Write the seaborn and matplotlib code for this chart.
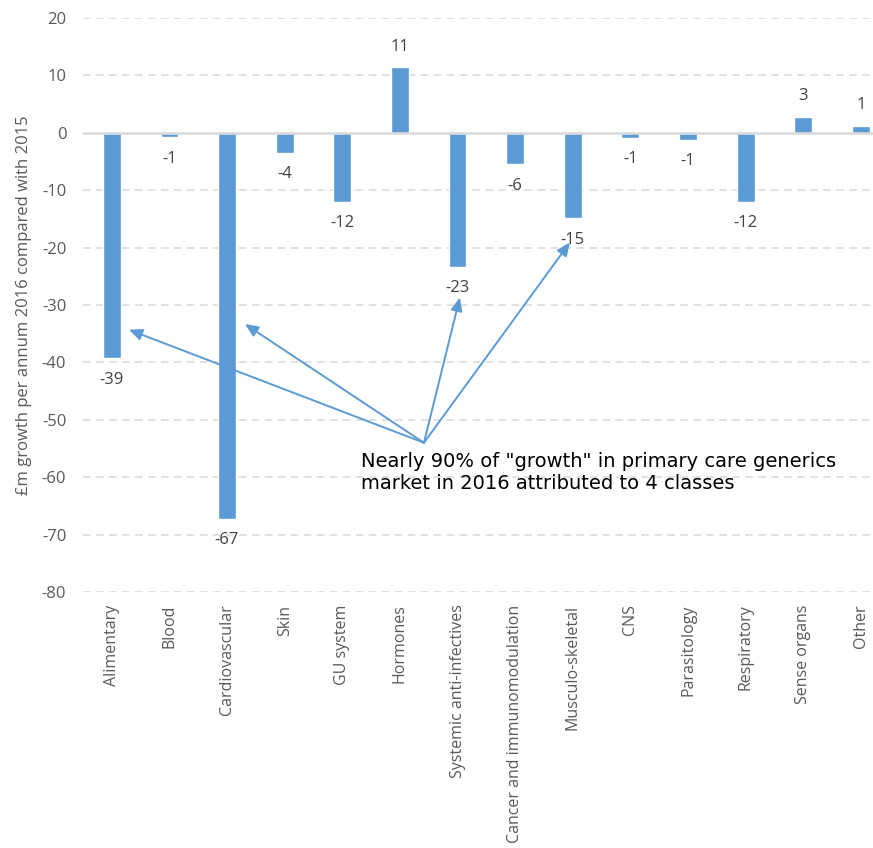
import matplotlib
matplotlib.use("Agg")
import matplotlib.pyplot as plt
import seaborn as sns
import pandas as pd

# Therapeutic classes and £m change in primary care generics spend, 2016 vs 2015
categories = [
    "Alimentary", "Blood", "Cardiovascular", "Skin", "GU system", "Hormones",
    "Systemic anti-infectives", "Cancer and immunomodulation", "Musculo-skeletal",
    "CNS", "Parasitology", "Respiratory", "Sense organs", "Other",
]
growth = [-39.3, -0.75, -67.2, -3.5, -12.0, 11.4, -23.3, -5.5, -14.9, -0.9, -1.2, -12.0, 2.7, 1.2]

# Classes highlighted by the callout
highlighted = ["Alimentary", "Cardiovascular", "Systemic anti-infectives", "Musculo-skeletal"]

y_ticks = list(range(-80, 21, 10))

BAR = "#5b9bd5"
GRID = "#d9d9d9"
TXT = "#595959"

sns.set_style("white")
plt.rcParams["font.family"] = ["Open Sans", "DejaVu Sans"]

df = pd.DataFrame({"category": categories, "growth": growth})

fig = plt.figure(figsize=(8.73, 8.48), dpi=100)
ax = fig.add_axes([83 / 873, 1 - 592 / 848, 1 - 83 / 873, (592 - 18) / 848])

sns.barplot(data=df, x="category", y="growth", color=BAR, width=0.31,
            saturation=1, ax=ax, zorder=3)

ax.set_ylim(-80, 20)
ax.set_xlim(-0.5, 13.21)
ax.set_yticks(y_ticks)
ax.set_yticklabels([str(t) for t in y_ticks], color=TXT, fontsize=12)

# Gridlines: dashed, with a solid zero line
for t in y_ticks:
    if t == 0:
        continue
    ax.axhline(t, color=GRID, lw=1.1, ls=(0, (5, 3.5)), zorder=1)
ax.axhline(0, color=GRID, lw=1.8, zorder=4)

for s in ax.spines.values():
    s.set_visible(False)
ax.tick_params(axis="y", length=0, pad=12)
ax.tick_params(axis="x", length=0, pad=9)
ax.set_xticks(range(len(categories)))
ax.set_xticklabels(categories, rotation=90, color=TXT, fontsize=11.5, va="top")
ax.set_xlabel("")
ax.set_ylabel("£m growth per annum 2016 compared with 2015", color=TXT,
              fontsize=12, labelpad=7)

# Value labels at the end of each bar
for i, v in enumerate(growth):
    off = 15 if v >= 0 else -15.5
    ax.annotate(f"{round(v):.0f}", xy=(i, v), xytext=(0, off),
                textcoords="offset points", ha="center", va="center",
                fontsize=12, color="#404040", zorder=5)

# Callout arrows from a common origin toward the highlighted bars
origin = (5.417, -54.0)
targets = {
    "Alimentary": (0.295, -34.3),
    "Cardiovascular": (2.309, -33.3),
    "Systemic anti-infectives": (6.04, -28.7),
    "Musculo-skeletal": (7.95, -19.1),
}
for name in highlighted:
    ax.annotate("", xy=targets[name], xytext=origin,
                arrowprops=dict(arrowstyle="-|>,head_length=0.8,head_width=0.35",
                                color=BAR, lw=1.4, shrinkA=0, shrinkB=0),
                zorder=6)

ax.text(4.32, -55.6,
        'Nearly 90% of "growth" in primary care generics\nmarket in 2016 attributed to 4 classes',
        fontsize=14, color="#000000", family=["DejaVu Sans"], ha="left", va="top",
        linespacing=1.2, zorder=6)

fig.savefig("out.png", dpi=100)
